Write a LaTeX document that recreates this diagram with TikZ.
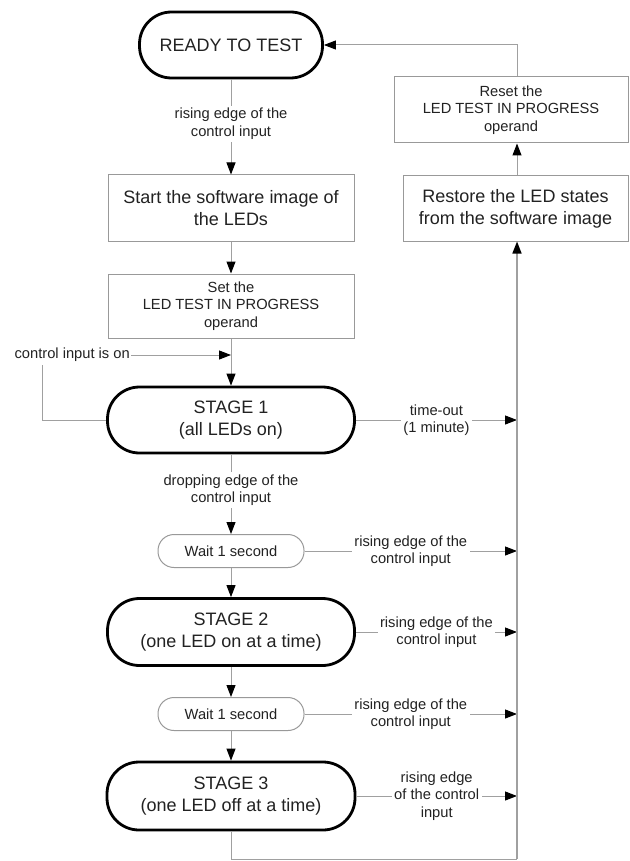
\documentclass[tikz,border=0pt]{standalone}
\usepackage{fontspec}
\setmainfont{Liberation Sans}
\usetikzlibrary{arrows.meta}
\definecolor{linegray}{HTML}{A0A0A0}
\definecolor{boxgray}{HTML}{999999}
\definecolor{txt}{HTML}{222222}
\tikzset{
  smallfont/.style={font=\fontsize{14.7}{17.5}\selectfont},
  bigfont/.style={font=\fontsize{18}{21.7}\selectfont},
  stadium/.style={draw=black, line width=2.8pt, rounded corners=32pt, bigfont, align=center, text=txt, inner sep=0pt},
  procbox/.style={draw=boxgray, line width=1pt, align=center, text=txt, inner sep=0pt},
  waitbox/.style={draw=boxgray, line width=1pt, rounded corners=16pt, smallfont, text=txt, inner sep=0pt, minimum width=146pt, minimum height=33pt},
  lbl/.style={smallfont, align=center, text=txt, fill=white, inner sep=2.5pt},
  conn/.style={draw=linegray, line width=1pt},
  arr/.style={conn, -{Triangle[length=12pt,width=9pt,black]}},
  rarr/.style={draw=linegray, line width=1.6pt, -{Triangle[length=12pt,width=9pt,black]}}
}
\begin{document}
\begin{tikzpicture}[x=1pt,y=-1pt]
\useasboundingbox[fill=white] (0,0) rectangle (629,861);
% main column
\node[stadium, minimum width=183pt, minimum height=66pt] (ready) at (231,45) {READY TO TEST};
\node[procbox, bigfont, minimum width=246pt, minimum height=66pt] (start) at (231,208) {Start the software image of\\the LEDs};
\node[procbox, smallfont, minimum width=246pt, minimum height=64pt] (set) at (231,306) {Set the\\LED TEST IN PROGRESS\\operand};
\node[stadium, minimum width=247pt, minimum height=66pt] (stage1) at (231,420) {STAGE 1\\(all LEDs on)};
\node[waitbox] (wait1) at (231,551) {Wait 1 second};
\node[stadium, minimum width=247pt, minimum height=67pt] (stage2) at (231,632) {STAGE 2\\(one LED on at a time)};
\node[waitbox] (wait2) at (231,714) {Wait 1 second};
\node[stadium, minimum width=248pt, minimum height=68pt] (stage3) at (231,796) {STAGE 3\\(one LED off at a time)};
% right column
\node[procbox, smallfont, minimum width=234pt, minimum height=66pt] (reset) at (511,110) {Reset the\\LED TEST IN PROGRESS\\operand};
\node[procbox, bigfont, minimum width=225pt, minimum height=65pt] (restore) at (515.5,208.5) {Restore the LED states\\from the software image};
% coordinates
\coordinate (rx) at (517,0);
\coordinate (junc) at (231,355);
\coordinate (loop) at (42,365);
\coordinate (bot) at (517,859);
% main flow
\draw[arr] (ready.south) -- (start.north) node[lbl, midway, yshift=3pt] {rising edge of the\\control input};
\draw[arr] (start.south) -- (set.north);
\draw[arr] (set.south) -- (stage1.north);
\node[smallfont, text=txt, anchor=east, inner sep=1pt] (ctl) at (131,355) {control input is on};
\draw[arr] (ctl.east) -- (junc);
\draw[conn] (stage1.west) -| (loop);
\draw[arr] (stage1.south) -- (wait1.north) node[lbl, midway, yshift=4pt] {dropping edge of the\\control input};
\draw[arr] (wait1.south) -- (stage2.north);
\draw[arr] (stage2.south) -- (wait2.north);
\draw[arr] (wait2.south) -- (stage3.north);
% exits to the right
\draw[arr] (stage1.east) -- (rx |- stage1.east) node[lbl, pos=0.5] {time-out\\(1 minute)};
\draw[arr] (wait1.east) -- (rx |- wait1.east) node[lbl, pos=0.5] {rising edge of the\\control input};
\draw[arr] (stage2.east) -- (rx |- stage2.east) node[lbl, pos=0.5] {rising edge of the\\control input};
\draw[arr] (wait2.east) -- (rx |- wait2.east) node[lbl, pos=0.5] {rising edge of the\\control input};
\draw[arr] (stage3.east) -- (rx |- stage3.east) node[lbl, pos=0.5] {rising edge\\of the control\\input};
% return path
\draw[conn] (stage3.south) |- (bot);
\draw[rarr] (bot) -- (rx |- restore.south);
\draw[arr] (rx |- restore.north) -- (rx |- reset.south);
\draw[arr] (rx |- reset.north) |- (ready.east);
\end{tikzpicture}
\end{document}
